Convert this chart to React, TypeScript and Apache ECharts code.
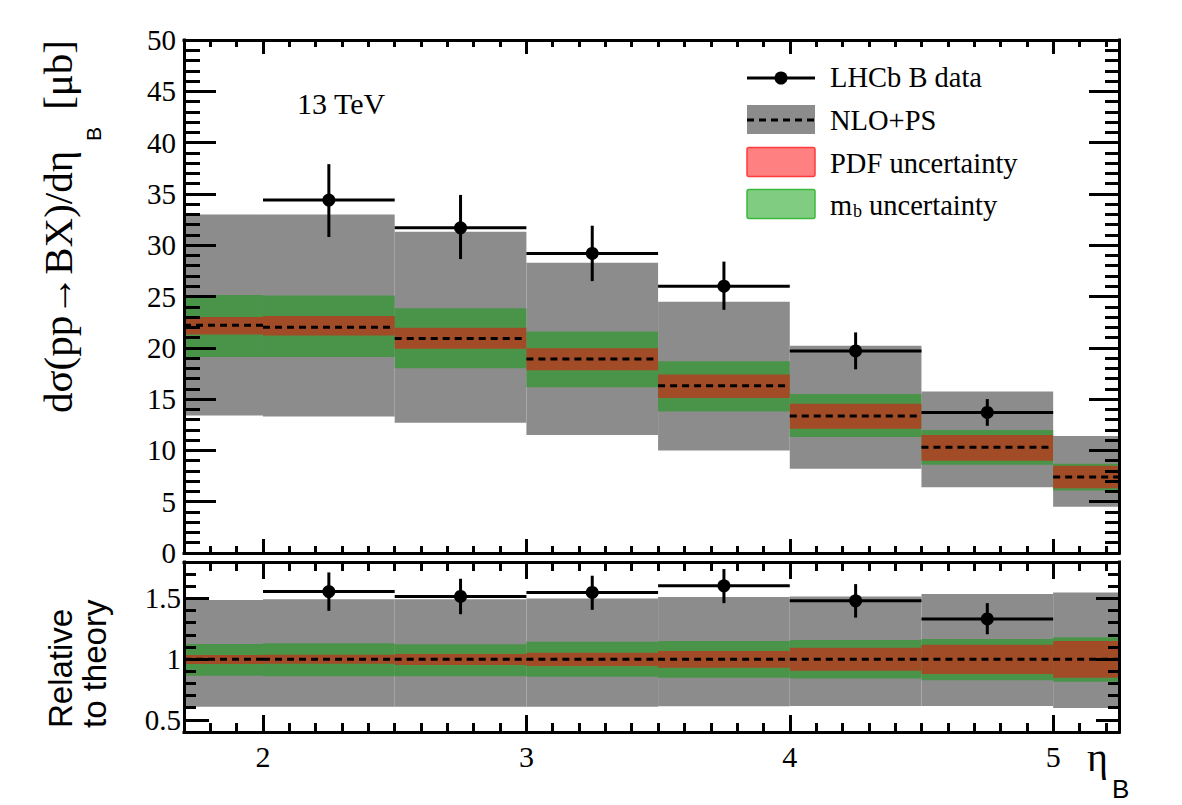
import React, { useEffect, useRef } from 'react';
import * as echarts from 'echarts';

// ---- theory bins (eta_B) ----
const binLow = [1.5, 2.0, 2.5, 3.0, 3.5, 4.0, 4.5, 5.0];
const binHigh = [2.0, 2.5, 3.0, 3.5, 4.0, 4.5, 5.0, 5.5];

// ---- NLO+PS prediction, dsigma/deta [mub] ----
const nloCentral = [22.2, 22.0, 20.9, 18.9, 16.3, 13.35, 10.3, 7.4];
const scaleUp = [33.0, 33.0, 31.3, 28.3, 24.5, 20.2, 15.75, 11.4];
const scaleDown = [13.4, 13.3, 12.7, 11.5, 10.0, 8.2, 6.4, 4.5];
const mbUp = [25.15, 25.1, 23.85, 21.6, 18.7, 15.5, 12.0, 8.7];
const mbDown = [19.1, 19.1, 18.0, 16.15, 13.8, 11.3, 8.6, 6.1];
const pdfUp = [23.0, 23.1, 21.95, 19.95, 17.4, 14.55, 11.5, 8.5];
const pdfDown = [21.3, 21.2, 19.9, 17.8, 15.1, 12.1, 9.0, 6.3];

// ---- ratio panel (relative to theory) ----
const ratioCentral = [1, 1, 1, 1, 1, 1, 1, 1];
const ratioScaleUp = [1.488, 1.494, 1.494, 1.499, 1.511, 1.516, 1.536, 1.549];
const ratioScaleDown = [0.607, 0.607, 0.607, 0.607, 0.612, 0.615, 0.615, 0.598];
const ratioMbUp = [1.125, 1.131, 1.122, 1.144, 1.15, 1.158, 1.166, 1.18];
const ratioMbDown = [0.863, 0.86, 0.86, 0.855, 0.846, 0.841, 0.827, 0.813];
const ratioPdfUp = [1.034, 1.036, 1.042, 1.053, 1.067, 1.094, 1.119, 1.15];
const ratioPdfDown = [0.96, 0.962, 0.951, 0.943, 0.929, 0.904, 0.877, 0.846];

// ---- LHCb data ----
const dataEta = [2.25, 2.75, 3.25, 3.75, 4.25, 4.75];
const dataEtaLow = [2.0, 2.5, 3.0, 3.5, 4.0, 4.5];
const dataEtaHigh = [2.5, 3.0, 3.5, 4.0, 4.5, 5.0];
const dataXsec = [34.4, 31.7, 29.2, 26.0, 19.7, 13.7];
const dataXsecHigh = [37.9, 34.9, 31.9, 28.4, 21.5, 15.0];
const dataXsecLow = [30.8, 28.65, 26.5, 23.7, 17.9, 12.4];
const dataRatio = [1.557, 1.516, 1.549, 1.604, 1.48, 1.331];
const dataRatioHigh = [1.714, 1.662, 1.687, 1.742, 1.618, 1.461];
const dataRatioLow = [1.398, 1.37, 1.406, 1.461, 1.342, 1.205];

// ---- axes ----
const X_MIN = 1.7;
const X_MAX = 5.25;
const Y_TOP_MIN = 0;
const Y_TOP_MAX = 50;
const Y_BOT_MIN = 0.4;
const Y_BOT_MAX = 1.8;
const xMajorTicks = [2, 3, 4, 5];
const yTopMajorTicks = [0, 5, 10, 15, 20, 25, 30, 35, 40, 45, 50];
const yBottomMajorTicks = [0.5, 1, 1.5];

function ticksBetween(start: number, end: number, step: number, skip: number[]) {
  const out: number[] = [];
  const n = Math.round((end - start) / step);
  for (let i = 0; i <= n; i++) {
    const v = Math.round((start + i * step) * 1000) / 1000;
    if (!skip.some((s) => Math.abs(s - v) < 1e-6)) out.push(v);
  }
  return out;
}
const xMinorTicks = ticksBetween(1.8, 5.2, 0.1, xMajorTicks);
const yTopMinorTicks = ticksBetween(1, 49, 1, yTopMajorTicks);
const yBottomMinorTicks = ticksBetween(0.5, 1.7, 0.1, yBottomMajorTicks);

const SERIF = 'Liberation Serif';
const SANS = 'Liberation Sans';
const GRAY = '#8c8c8c';
const GREEN = '#4a944a';
const BROWN = '#a24b27';

function bandRows(up: number[], down: number[]) {
  return binLow.map((lo, i) => [lo, binHigh[i], down[i], up[i]]);
}
function centralRows(c: number[]) {
  return binLow.map((lo, i) => [lo, binHigh[i], c[i]]);
}
function dataRows(y: number[], yl: number[], yh: number[]) {
  return dataEta.map((x, i) => [x, dataEtaLow[i], dataEtaHigh[i], y[i], yl[i], yh[i]]);
}

const bandRender = (color: string) => (params: any, api: any) => {
  const a = api.coord([api.value(0), api.value(3)]);
  const b = api.coord([api.value(1), api.value(2)]);
  const cs = params.coordSys;
  const left = Math.max(a[0], cs.x);
  const right = Math.min(b[0], cs.x + cs.width);
  if (right <= left) return null;
  return {
    type: 'rect',
    shape: { x: left, y: a[1], width: right - left, height: b[1] - a[1] },
    style: { fill: color },
  };
};

const centralRender = (params: any, api: any) => {
  const a = api.coord([api.value(0), api.value(2)]);
  const b = api.coord([api.value(1), api.value(2)]);
  const cs = params.coordSys;
  const left = Math.max(a[0], cs.x);
  const right = Math.min(b[0], cs.x + cs.width);
  if (right <= left) return null;
  return {
    type: 'line',
    shape: { x1: left, y1: a[1], x2: right, y2: a[1] },
    style: { stroke: '#000', lineWidth: 3, lineDash: [7, 5] },
  };
};

const dataRender = (params: any, api: any) => {
  const c = api.coord([api.value(0), api.value(3)]);
  const xl = api.coord([api.value(1), api.value(3)]);
  const xh = api.coord([api.value(2), api.value(3)]);
  const yl = api.coord([api.value(0), api.value(4)]);
  const yh = api.coord([api.value(0), api.value(5)]);
  return {
    type: 'group',
    children: [
      { type: 'line', shape: { x1: xl[0], y1: c[1], x2: xh[0], y2: c[1] }, style: { stroke: '#000', lineWidth: 3 } },
      { type: 'line', shape: { x1: c[0], y1: yl[1], x2: c[0], y2: yh[1] }, style: { stroke: '#000', lineWidth: 3 } },
      { type: 'circle', shape: { cx: c[0], cy: c[1], r: 6.5 }, style: { fill: '#000' } },
    ],
  };
};

function axisPair(
  gridIndex: number,
  position: string,
  min: number,
  max: number,
  major: number[],
  minor: number[],
  majorLen: number,
  minorLen: number,
  label: any
) {
  const base = {
    type: 'value',
    gridIndex,
    position,
    min,
    max,
    z: 10,
    splitLine: { show: false },
  };
  return [
    {
      ...base,
      axisLine: { show: true, onZero: false, lineStyle: { color: '#000', width: 3, cap: 'square' } },
      axisTick: { show: true, inside: true, length: majorLen, customValues: major, lineStyle: { color: '#000', width: 3 } },
      axisLabel: label ? { show: true, customValues: major, color: '#000', ...label } : { show: false },
    },
    {
      ...base,
      axisLine: { show: false, onZero: false },
      axisTick: { show: true, inside: true, length: minorLen, customValues: minor, lineStyle: { color: '#000', width: 3 } },
      axisLabel: { show: false },
    },
  ];
}

function txt(x: number, y: number, text: string, family: string, size: number, align = 'left', rotation = 0) {
  return {
    type: 'text',
    x,
    y,
    rotation,
    z: 30,
    style: {
      text,
      fontFamily: family,
      fontSize: size,
      fill: '#000',
      align,
      verticalAlign: 'middle',
      textAlign: align,
      textVerticalAlign: 'middle',
    },
  };
}

export default function App() {
  const ref = useRef<HTMLDivElement>(null);
  useEffect(() => {
    if (!ref.current) return;
    const chart = echarts.init(ref.current, null, { renderer: 'svg' });
    const R = Math.PI / 2;
    const option: any = {
      animation: false,
      backgroundColor: '#fff',
      grid: [
        { left: 184, right: 63, top: 40, height: 513 },
        { left: 184, right: 63, top: 562, height: 170 },
      ],
      xAxis: [
        ...axisPair(0, 'bottom', X_MIN, X_MAX, xMajorTicks, xMinorTicks, 14, 7, null),
        ...axisPair(0, 'top', X_MIN, X_MAX, xMajorTicks, xMinorTicks, 14, 7, null),
        ...axisPair(1, 'bottom', X_MIN, X_MAX, xMajorTicks, xMinorTicks, 17, 9, {
          fontFamily: SERIF,
          fontSize: 30,
          margin: 9,
        }),
        ...axisPair(1, 'top', X_MIN, X_MAX, xMajorTicks, xMinorTicks, 17, 9, null),
      ],
      yAxis: [
        ...axisPair(0, 'left', Y_TOP_MIN, Y_TOP_MAX, yTopMajorTicks, yTopMinorTicks, 32, 16, {
          fontFamily: SERIF,
          fontSize: 29,
          margin: 8,
        }),
        ...axisPair(0, 'right', Y_TOP_MIN, Y_TOP_MAX, yTopMajorTicks, yTopMinorTicks, 30, 14, null),
        ...axisPair(1, 'left', Y_BOT_MIN, Y_BOT_MAX, yBottomMajorTicks, yBottomMinorTicks, 25, 12, {
          fontFamily: SERIF,
          fontSize: 29,
          margin: 3,
        }),
        ...axisPair(1, 'right', Y_BOT_MIN, Y_BOT_MAX, yBottomMajorTicks, yBottomMinorTicks, 23, 11, null),
      ],
      series: [
        { type: 'custom', name: 'NLO+PS', xAxisIndex: 0, yAxisIndex: 0, z: 2, renderItem: bandRender(GRAY), encode: { x: [0, 1], y: [2, 3] }, data: bandRows(scaleUp, scaleDown) },
        { type: 'custom', name: 'mb', xAxisIndex: 0, yAxisIndex: 0, z: 3, renderItem: bandRender(GREEN), encode: { x: [0, 1], y: [2, 3] }, data: bandRows(mbUp, mbDown) },
        { type: 'custom', name: 'PDF', xAxisIndex: 0, yAxisIndex: 0, z: 4, renderItem: bandRender(BROWN), encode: { x: [0, 1], y: [2, 3] }, data: bandRows(pdfUp, pdfDown) },
        { type: 'custom', name: 'central', xAxisIndex: 0, yAxisIndex: 0, z: 5, renderItem: centralRender, encode: { x: [0, 1], y: 2 }, data: centralRows(nloCentral) },
        { type: 'custom', name: 'LHCb', xAxisIndex: 0, yAxisIndex: 0, z: 6, renderItem: dataRender, encode: { x: [0, 1, 2], y: [3, 4, 5] }, data: dataRows(dataXsec, dataXsecLow, dataXsecHigh) },

        { type: 'custom', name: 'rNLO', xAxisIndex: 4, yAxisIndex: 4, z: 2, renderItem: bandRender(GRAY), encode: { x: [0, 1], y: [2, 3] }, data: bandRows(ratioScaleUp, ratioScaleDown) },
        { type: 'custom', name: 'rmb', xAxisIndex: 4, yAxisIndex: 4, z: 3, renderItem: bandRender(GREEN), encode: { x: [0, 1], y: [2, 3] }, data: bandRows(ratioMbUp, ratioMbDown) },
        { type: 'custom', name: 'rPDF', xAxisIndex: 4, yAxisIndex: 4, z: 4, renderItem: bandRender(BROWN), encode: { x: [0, 1], y: [2, 3] }, data: bandRows(ratioPdfUp, ratioPdfDown) },
        { type: 'custom', name: 'rcentral', xAxisIndex: 4, yAxisIndex: 4, z: 5, renderItem: centralRender, encode: { x: [0, 1], y: 2 }, data: centralRows(ratioCentral) },
        { type: 'custom', name: 'rLHCb', xAxisIndex: 4, yAxisIndex: 4, z: 6, renderItem: dataRender, encode: { x: [0, 1, 2], y: [3, 4, 5] }, data: dataRows(dataRatio, dataRatioLow, dataRatioHigh) },
      ],
      graphic: [
        txt(297, 103, '13 TeV', SERIF, 30),
        // legend
        { type: 'line', z: 30, shape: { x1: 747, y1: 78, x2: 815, y2: 78 }, style: { stroke: '#000', lineWidth: 3 } },
        { type: 'circle', z: 30, shape: { cx: 781, cy: 78, r: 6.5 }, style: { fill: '#000' } },
        txt(830, 77, 'LHCb B data', SERIF, 28.5),
        { type: 'rect', z: 30, shape: { x: 747, y: 105, width: 68, height: 29 }, style: { fill: GRAY } },
        { type: 'line', z: 31, shape: { x1: 747, y1: 120, x2: 815, y2: 120 }, style: { stroke: '#000', lineWidth: 3, lineDash: [7, 5] } },
        txt(830, 120.5, 'NLO+PS', SERIF, 28.5),
        { type: 'rect', z: 30, shape: { x: 747, y: 147.5, width: 68, height: 29, r: 2 }, style: { fill: '#ff8080', stroke: '#ff3b3b', lineWidth: 1.5 } },
        txt(830, 163, 'PDF uncertainty', SERIF, 28.5),
        { type: 'rect', z: 30, shape: { x: 747, y: 189.5, width: 68, height: 29, r: 2 }, style: { fill: '#80cc80', stroke: '#3cb93c', lineWidth: 1.5 } },
        txt(830, 205, 'm', SERIF, 28.5),
        txt(853, 211, 'b', SERIF, 18),
        txt(869, 205, 'uncertainty', SERIF, 28.5),
        // y title
        txt(58, 413, 'dσ(pp→BX)/dη', SERIF, 41, 'left', R),
        txt(93, 141, 'B', SANS, 21, 'left', R),
        txt(58, 40, '[μb]', SERIF, 41, 'right', R),
        // ratio title
        txt(60.5, 728, 'Relative', SANS, 33, 'left', R),
        txt(94.5, 728, 'to theory', SANS, 33, 'left', R),
        // x title
        txt(1087, 757, 'η', SERIF, 40),
        txt(1112, 789, 'B', SANS, 26),
      ],
    };
    chart.setOption(option);
    return () => chart.dispose();
  }, []);
  return (
    <div
      ref={ref}
      style={{ position: 'fixed', left: 0, top: 0, width: 1182, height: 805, background: '#fff' }}
    />
  );
}
